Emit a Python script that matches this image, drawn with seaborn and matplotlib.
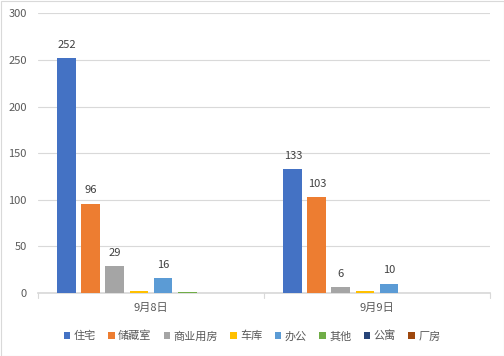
import matplotlib
matplotlib.use("Agg")
import matplotlib.pyplot as plt
import seaborn as sns
import pandas as pd
from matplotlib.patches import Patch, Rectangle

dates = ["9月8日", "9月9日"]
types = ["住宅", "储藏室", "商业用房", "车库", "办公", "其他", "公寓", "厂房"]
vals_0908 = [252, 96, 29, 2, 16, 1, 0, 0]
vals_0909 = [133, 103, 6, 2, 10, 0, 0, 0]
labels_0908 = ["252", "96", "29", "", "16", "", "", ""]
labels_0909 = ["133", "103", "6", "", "10", "", "", ""]
colors = ["#4472C4", "#ED7D31", "#A5A5A5", "#FFC000", "#5B9BD5", "#70AD47", "#264478", "#9E480E"]

rows = []
for d, vals, labs in [(dates[0], vals_0908, labels_0908), (dates[1], vals_0909, labels_0909)]:
    for t, v, l in zip(types, vals, labs):
        rows.append({"date": d, "type": t, "value": v, "label": l})
df = pd.DataFrame(rows)

sns.set_theme(style="white")
plt.rcParams["font.family"] = ["Noto Sans CJK SC", "DejaVu Sans"]

fig = plt.figure(figsize=(5.04, 3.56), dpi=100)
ax = fig.add_axes([38/504, (356-293)/356, (490-38)/504, (293-13.4)/356])

sns.barplot(data=df, x="date", y="value", hue="type", hue_order=types, order=dates,
            palette=colors, width=0.85, gap=0.21, ax=ax, legend=False, saturation=1,
            linewidth=0, zorder=3)

for cont, t in zip(ax.containers, types):
    labs = [df[(df.type == t) & (df.date == d)]["label"].iloc[0] for d in dates]
    ax.bar_label(cont, labels=labs, padding=6, fontsize=8, color="#404040")

ax.set_ylim(0, 300)
ax.set_yticks(range(0, 301, 50))
ax.set_xlim(-0.5, 1.5)
ax.yaxis.grid(True, color="#D9D9D9", linewidth=0.8)
ax.set_axisbelow(True)
for s in ["top", "right", "left"]:
    ax.spines[s].set_visible(False)
ax.spines["bottom"].set_color("#D9D9D9")
ax.spines["bottom"].set_zorder(1)
ax.set_xlabel("")
ax.set_ylabel("")
ax.tick_params(axis="y", length=0, labelsize=8, labelcolor="#595959", pad=8)
ax.tick_params(axis="x", length=0, labelsize=8, labelcolor="#595959", pad=7)
for xv in [-0.5, 0.5, 1.5]:
    ax.plot([xv, xv], [0, -0.017], transform=ax.get_xaxis_transform(), color="#D9D9D9",
            linewidth=0.8, clip_on=False)

handles = [Patch(facecolor=c, edgecolor="none") for c in colors]
fig.legend(handles, types, loc="center", bbox_to_anchor=(0.5, (356-336)/356),
           ncol=8, frameon=False, fontsize=8, labelcolor="#595959",
           handlelength=0.6, handleheight=0.6, handletextpad=0.3, columnspacing=1.1)

fig.patches.append(Rectangle((0.5/504, 0.5/356), 1 - 1/504, 1 - 1/356,
                   transform=fig.transFigure, fill=False, edgecolor="#D9D9D9", linewidth=0.8))

fig.savefig("out.png", dpi=100)
